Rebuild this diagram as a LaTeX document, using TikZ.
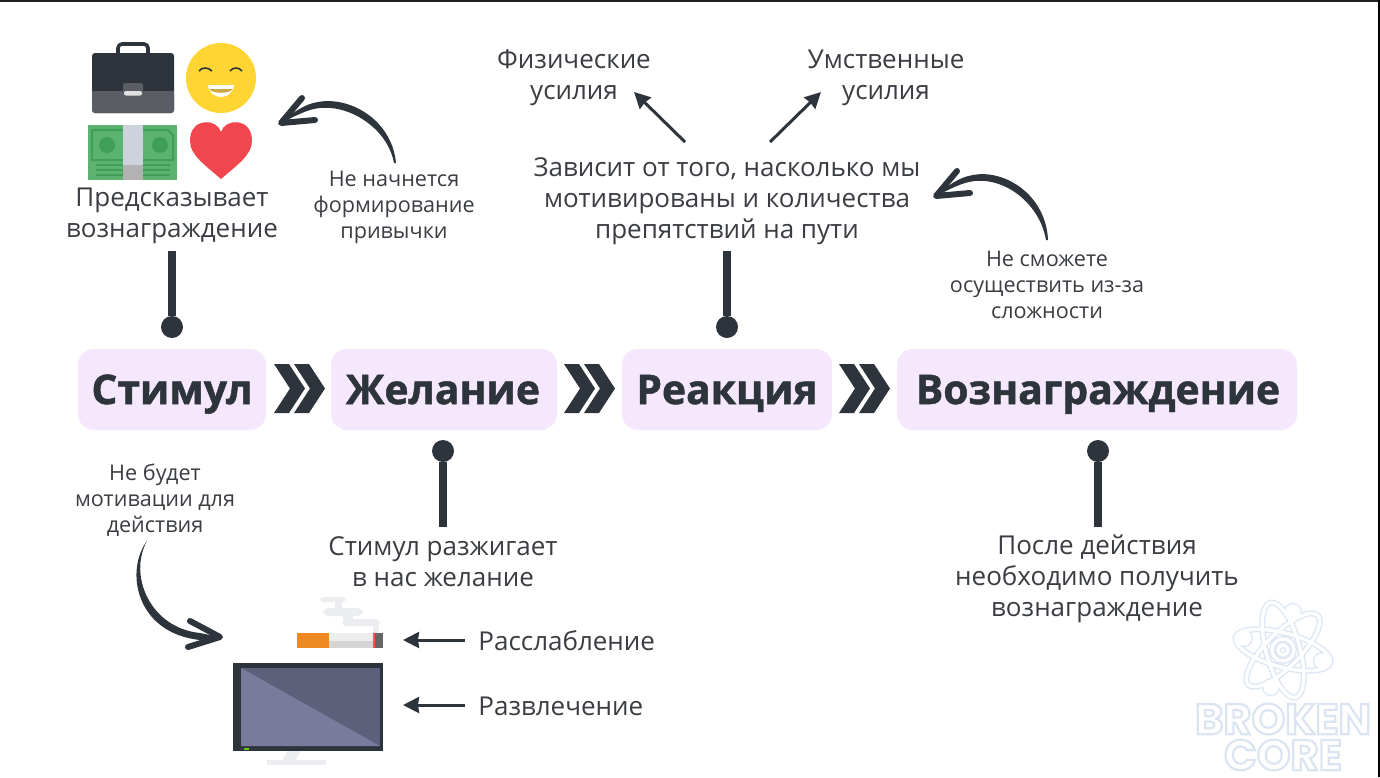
\documentclass[tikz,border=0pt]{standalone}
\usepackage{fontspec}
\setmainfont{Open Sans}
\newfontfamily\headfont[BoldFeatures={FakeBold=1.2}]{Open Sans}
\newfontfamily\markfont{Poppins}
\usetikzlibrary{arrows.meta,calc}
\definecolor{ink}{HTML}{2E343B}
\definecolor{txt}{HTML}{3A3D42}
\definecolor{boxfill}{HTML}{F5E8FC}
\definecolor{moneyg}{HTML}{5CB270}
\definecolor{moneyd}{HTML}{3F9E57}
\definecolor{strap}{HTML}{CDD2DC}
\definecolor{caselow}{HTML}{5A5D63}
\definecolor{sunny}{HTML}{FFD533}
\definecolor{toothy}{HTML}{CFA53F}
\definecolor{heartred}{HTML}{F2464F}
\definecolor{filter}{HTML}{EE8A22}
\definecolor{smoke}{HTML}{ECEDF0}
\definecolor{screena}{HTML}{5D607A}
\definecolor{screenb}{HTML}{797B9C}
\definecolor{markb}{HTML}{DCE5F2}
\tikzset{
  x=0.5pt,y=-0.5pt,
  head/.style={font=\headfont\fontsize{20.4}{24}\selectfont\bfseries,text=ink,inner sep=0pt,anchor=base},
  big/.style={font=\fontsize{13}{15.5}\selectfont,text=txt,align=center,inner sep=0pt},
  small/.style={font=\fontsize{10.8}{13}\selectfont,text=txt,align=center,inner sep=0pt},
  stem/.style={line width=4pt,draw=ink},
  dot/.style={circle,fill=ink,minimum size=11pt,inner sep=0pt},
  barb/.style={line width=3pt,draw=ink,line cap=round,line join=round},
  thin arrow/.style={line width=1.5pt,draw=ink,-{Stealth[length=8pt,width=8pt,inset=0.5pt]}},
  orbit/.style={draw=white,line width=1.7pt},
  orbit back/.style={draw=markb,line width=3pt},
  emblem text/.style={font=\markfont\fontsize{21.5}{24}\selectfont\bfseries,text=white,inner sep=0pt},
}
% one ribbon-like chevron, #1 is its top left corner
\newcommand{\chevron}[1]{%
  \fill[ink] (#1) -- ++(15,0) -- ++(16,24.5) -- ++(-16,24.5) -- ++(-15,0) -- ++(16,-24.5) -- cycle;}
% outlined lettering
\newcommand{\outlined}[1]{\special{pdf:code 2 Tr 1.1 w 0.86 0.90 0.95 RG}#1\special{pdf:code 0 Tr}}
\begin{document}
\begin{tikzpicture}
\useasboundingbox (0,0) rectangle (1380,777);
\fill[white] (0,0) rectangle (1380,777);
\fill[black!88] (0,0) rectangle (1380,2);
\fill[black] (1378,0) rectangle (1380,777);

% main stages
\fill[boxfill,rounded corners=8pt] (78,349) rectangle (266,430);
\fill[boxfill,rounded corners=8pt] (331,349) rectangle (557,430);
\fill[boxfill,rounded corners=8pt] (622,349) rectangle (832,430);
\fill[boxfill,rounded corners=8pt] (897,349) rectangle (1297,430);
\node[head] (stim) at (172,404) {Стимул};
\node[head] (want) at (443,404) {Желание};
\node[head] (react) at (727,404) {Реакция};
\node[head] (reward) at (1098,404) {Вознаграждение};
\foreach \xo in {274,294,564,584,839,859}{\chevron{\xo,364}}

% labels above and below the stages
\node[big] (predict) at (172,216) {Предсказывает\\вознаграждение};
\node[big] (depends) at (727,201) {Зависит от того, насколько мы\\мотивированы и количества\\препятствий на пути};
\node[big] (phys) at (574,78) {Физические\\усилия};
\node[big] (mental) at (886,78) {Умственные\\усилия};
\node[big] (ignite) at (443,562) {Стимул разжигает\\в нас желание};
\node[big] (after) at (1097,579) {После действия\\необходимо получить\\вознаграждение};
\node[big,anchor=west] (relax) at (478,641) {Расслабление};
\node[big,anchor=west] (fun) at (478,706) {Развлечение};
\node[small] (nohabit) at (394,207) {Не начнется\\формирование\\привычки};
\node[small] (nodo) at (1047,285) {Не сможете\\осуществить из-за\\сложности};
\node[small] (nomot) at (155,500) {Не будет\\мотивации для\\действия};

% stems with round ends
\node[dot] (d1) at (172,327) {};
\node[dot] (d2) at (727,327) {};
\node[dot] (d3) at (443,451) {};
\node[dot] (d4) at (1098,451) {};
\coordinate (s1) at (172,251);
\coordinate (s2) at (727,251);
\coordinate (s3) at (443,527);
\coordinate (s4) at (1098,527);
\draw[stem] (s1) -- (d1);
\draw[stem] (s2) -- (d2);
\draw[stem] (s3) -- (d3);
\draw[stem] (s4) -- (d4);

% brush-stroke arrows: tapered body and two rounded barbs
\coordinate (tipa) at (281,123);
\coordinate (bara) at (302,98);
\coordinate (barb) at (315,120);
\fill[ink] (396,163) .. controls (392,120) and (350,96) .. (318,102)
  .. controls (305,104) and (293,112) .. (tipa)
  .. controls (295,116) and (308,109) .. (320,108)
  .. controls (352,105) and (388,130) .. (394,163) -- cycle;
\draw[barb] (bara) -- (tipa) -- (barb);

\coordinate (tipc) at (936,196);
\coordinate (barc) at (957,171);
\coordinate (bard) at (970,193);
\fill[ink] (1048,240) .. controls (1046,195) and (1005,169) .. (973,175)
  .. controls (960,177) and (948,185) .. (tipc)
  .. controls (950,189) and (963,182) .. (975,181)
  .. controls (1007,178) and (1040,205) .. (1046,240) -- cycle;
\draw[barb] (barc) -- (tipc) -- (bard);

\coordinate (tipe) at (220,637);
\coordinate (bare) at (190,621);
\coordinate (barf) at (188,647);
\fill[ink] (147,541) .. controls (125,570) and (135,633) .. (200,640) -- (tipe)
  -- (200,633) .. controls (150,628) and (128,575) .. (147,541) -- cycle;
\draw[barb] (bare) -- (tipe) -- (barf);

% straight thin arrows
\coordinate (a1s) at (685,142);
\coordinate (a1e) at (634,92);
\coordinate (a2s) at (770,142);
\coordinate (a2e) at (821,92);
\draw[thin arrow] (a1s) -- (a1e);
\draw[thin arrow] (a2s) -- (a2e);
\coordinate (a3s) at (465,640);
\coordinate (a3e) at (403,640);
\coordinate (a4s) at (465,705);
\coordinate (a4e) at (403,705);
\draw[thin arrow] (a3s) -- (a3e);
\draw[thin arrow] (a4s) -- (a4e);

% briefcase
\draw[ink,line width=1.8pt,rounded corners=2pt] (118,54) -- (118,44) -- (148,44) -- (148,54);
\fill[ink,rounded corners=1.5pt] (92,53) rectangle (174,113);
\fill[caselow,rounded corners=1.5pt] (92,91) rectangle (174,113);
\fill[caselow] (92,91) rectangle (174,100);
\fill[caselow,rounded corners=1pt] (123,83) rectangle (143,96);
\fill[black!12,rounded corners=1pt] (124,91) rectangle (142,95.5);

% smiling face
\fill[sunny] (221,78) circle[radius=35];
\fill[white] (208,85) -- (234,85) .. controls (232,101) and (210,101) .. (208,85) -- cycle;
\fill[toothy] (209.5,89) -- (232.5,89) .. controls (230,94) and (212,94) .. (209.5,89) -- cycle;
\draw[ink,line width=0.8pt] (199,71) .. controls (202,67) and (208,67) .. (212,71);
\draw[ink,line width=0.8pt] (230,71) .. controls (233,67) and (239,67) .. (242,71);

% banknotes
\fill[moneyg] (88,125) rectangle (177,180);
\draw[moneyd,line width=1pt] (92,130) -- (168,130) -- (173,135) -- (173,160) -- (92,160) -- cycle;
\fill[moneyd] (107,145) circle[radius=8];
\fill[moneyd] (160,145) circle[radius=8];
\foreach \yy in {165,170,175} \draw[moneyd,line width=0.8pt] (96,\yy) -- (170,\yy);
\fill[strap] (123,125) rectangle (143,180);
\fill[black!30] (123,165) rectangle (143,180);

% heart
\fill[heartred] (221,179) .. controls (205,165) and (190,155) .. (190,141)
  .. controls (190,117) and (217,118) .. (221,132)
  .. controls (225,118) and (252,117) .. (252,141)
  .. controls (252,155) and (237,165) .. (221,179) -- cycle;

% cigarette with smoke
\fill[smoke,rounded corners=2pt] (320,597) rectangle (346,602);
\fill[smoke] (335,602) rectangle (342,608);
\fill[smoke,rounded corners=3pt] (323,608) rectangle (363,616);
\fill[smoke] (343,616) rectangle (353,619);
\fill[smoke,rounded corners=2pt] (342,619) rectangle (380,626);
\fill[smoke] (373,626) rectangle (379,633);
\fill[filter] (297,633) rectangle (329,648);
\fill[black!7] (329,633) rectangle (373,648);
\fill[black!17] (329,641) rectangle (373,648);
\fill[red!70] (373,633) rectangle (375,648);
\fill[black!60] (375,633) rectangle (383,648);

% monitor
\fill[ink] (233,663) rectangle (383,751);
\fill[screena] (241,668) rectangle (380,746);
\fill[screenb] (241,668) -- (380,746) -- (241,746) -- cycle;
\fill[green!60!orange] (244,748) rectangle (249,750);
\fill[smoke] (287,751) -- (300,751) -- (296,760) -- (283,760) -- cycle;
\fill[smoke] (267,760) rectangle (326,765);

% atom emblem
\begin{scope}[shift={(1283,650)}]
  \foreach \st in {orbit back,orbit}{
    \foreach \r in {15,75,-45}{
      \draw[\st,rotate=\r] (0,0) ellipse[x radius=17,y radius=49];
    }
    \draw[\st] (0,0) circle[radius=11];
    \draw[\st] (0,0) circle[radius=5];
    \foreach \pp in {(10,-38),(-39,-12),(39,11),(-12,37)}{
      \draw[\st,fill=white] \pp circle[radius=6];
    }
  }
\end{scope}
\node[emblem text] (mk1) at (1283,719) {\outlined{BROKEN}};
\node[emblem text] (mk2) at (1283,755) {\outlined{CORE}};
\end{tikzpicture}
\end{document}
